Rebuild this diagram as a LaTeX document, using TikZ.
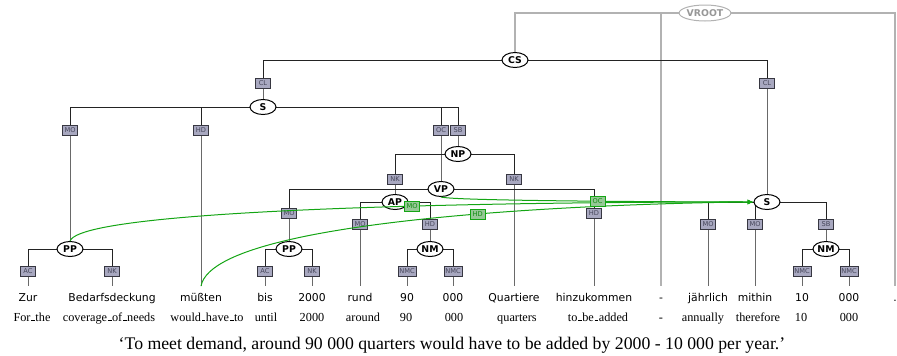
\documentclass[tikz,border=0pt]{standalone}
\usepackage{fontspec}
\setmainfont{Liberation Serif}
\newfontfamily\dejavu{DejaVu Sans}
\usetikzlibrary{shapes.geometric,backgrounds,arrows.meta}

\definecolor{labfill}{RGB}{168,168,192}
\definecolor{labline}{RGB}{55,55,65}
\definecolor{labtext}{RGB}{70,70,90}
\definecolor{secgreen}{RGB}{20,165,20}
\definecolor{secfill}{RGB}{150,200,150}
\definecolor{edgedark}{RGB}{35,35,35}
\definecolor{edgegray}{RGB}{105,105,105}
\definecolor{rootgray}{RGB}{178,178,178}

% underscore of the glosses: a short rule sitting on the baseline
\newcommand\us{\leavevmode\kern.06em\vbox{\hrule width.3em}\kern.04em}
% tree edge: parent -> function label (dark), label -> child (grey)
\newcommand\treeedge[3]{%
  \draw[upperedge] (#1.center) -| (#2.center);
  \draw[loweredge] (#2.center) -- (#3);}

\tikzset{
  cat/.style={ellipse, draw=black, fill=white, line width=0.75pt,
    font=\dejavu\bfseries\fontsize{7}{8}\selectfont,
    minimum width=19.5pt, minimum height=11.25pt, inner sep=0pt},
  rootcat/.style={cat, draw=rootgray, text=rootgray!85!black,
    minimum width=34.5pt, minimum height=12pt},
  lab/.style={rectangle, fill=labfill, draw=labline, line width=0.6pt,
    text=labtext, font=\dejavu\fontsize{5}{6}\selectfont,
    minimum width=11.5pt, minimum height=7.5pt, inner xsep=1pt, inner ysep=0pt},
  seclab/.style={lab, fill=secfill, draw=secgreen, text=secgreen!85!black},
  word/.style={anchor=base, font=\dejavu\fontsize{8.1}{9}\selectfont,
    text height=7pt, text depth=2pt, inner xsep=1pt, inner ysep=4pt},
  gloss/.style={anchor=base, font=\fontsize{9.2}{11}\selectfont, inner sep=0pt},
  upperedge/.style={draw=edgedark, line width=0.75pt},
  loweredge/.style={draw=edgegray, line width=0.75pt},
  rootedge/.style={draw=rootgray, line width=0.9pt},
  secedge/.style={draw=secgreen, line width=0.75pt,
    -{Latex[length=4.5pt,width=3.8pt]}},
}

\begin{document}
\begin{tikzpicture}[x=0.75pt, y=-0.75pt]
\useasboundingbox (0,0) rectangle (897,355);

% ---- syntactic categories ----
\node[rootcat] (vroot) at (705,13) {VROOT};
\node[cat] (cs)  at (515,60)  {CS};
\node[cat] (s1)  at (263,107) {S};
\node[cat] (np)  at (458,154) {NP};
\node[cat] (vp)  at (441,189) {VP};
\node[cat] (ap)  at (395,202) {AP};
\node[cat] (pp1) at (70,249)  {PP};
\node[cat] (pp2) at (289,249) {PP};
\node[cat] (nm1) at (430,249) {NM};
\node[cat] (s2)  at (767,202) {S};
\node[cat] (nm2) at (826,249) {NM};

% ---- edge labels ----
\node[lab] (l-cl1)  at (263,83)  {CL};
\node[lab] (l-cl2)  at (767,83)  {CL};
\node[lab] (l-s1mo) at (70,130)  {MO};
\node[lab] (l-s1hd) at (201,130) {HD};
\node[lab] (l-s1oc) at (441,130) {OC};
\node[lab] (l-s1sb) at (458,130) {SB};
\node[lab] (l-npa)  at (395,179) {NK};
\node[lab] (l-npb)  at (514,179) {NK};
\node[lab] (l-vpmo) at (289,213) {MO};
\node[lab] (l-vphd) at (594,213) {HD};
\node[lab] (l-apmo) at (360,224) {MO};
\node[lab] (l-aphd) at (430,224) {HD};
\node[lab] (l-pp1a) at (28,271)  {AC};
\node[lab] (l-pp1b) at (112,271) {NK};
\node[lab] (l-pp2a) at (265,271) {AC};
\node[lab] (l-pp2b) at (312,271) {NK};
\node[lab] (l-nm1a) at (407,271) {NMC};
\node[lab] (l-nm1b) at (453,271) {NMC};
\node[lab] (l-s2a)  at (708,224) {MO};
\node[lab] (l-s2b)  at (755,224) {MO};
\node[lab] (l-s2sb) at (826,224) {SB};
\node[lab] (l-nm2a) at (802,271) {NMC};
\node[lab] (l-nm2b) at (849,271) {NMC};

% ---- tokens ----
\foreach \n/\x/\t in {1/28/Zur, 2/112/Bedarfsdeckung, 3/201/müßten, 4/265/bis,
    5/312/2000, 6/360/rund, 7/407/90, 8/453/000, 9/514/Quartiere,
    10/594/hinzukommen, 11/661/-, 12/708/jährlich, 13/755/mithin,
    14/802/10, 15/849/000, 16/895/.}
  \node[word] (w\n) at (\x,301) {\t};

% ---- glosses ----
\foreach \n/\x/\t in {1/32/For\us the, 2/109/coverage\us of\us needs,
    3/207/would\us have\us to, 4/266/until, 5/312/2000, 6/363/around,
    7/406/90, 8/454/000, 9/517/quarters, 10/598/to\us be\us added,
    11/661/-, 12/703/annually, 13/758/therefore, 14/801/10, 15/849/000}
  \node[gloss] (g\n) at (\x,321) {\t};

% ---- free translation ----
\node[anchor=base, font=\fontsize{13.3}{15}\selectfont, inner sep=0pt]
  (transl) at (452,349)
  {‘To meet demand, around 90 000 quarters would have to be added by 2000 - 10 000 per year.’};

% ---- primary edges ----
\begin{pgfonlayer}{background}
  \draw[rootedge] (vroot.center) -| (cs.center);
  \draw[rootedge] (vroot.center) -| (w11.north);
  \draw[rootedge] (vroot.center) -| (w16.north);

  \treeedge{cs}{l-cl1}{s1.center}
  \treeedge{cs}{l-cl2}{s2.center}

  \treeedge{s1}{l-s1mo}{pp1.center}
  \treeedge{s1}{l-s1hd}{w3.north}
  \treeedge{s1}{l-s1oc}{vp.center}
  \treeedge{s1}{l-s1sb}{np.center}

  \treeedge{np}{l-npa}{ap.center}
  \treeedge{np}{l-npb}{w9.north}

  \treeedge{vp}{l-vpmo}{pp2.center}
  \treeedge{vp}{l-vphd}{w10.north}

  \treeedge{ap}{l-apmo}{w6.north}
  \treeedge{ap}{l-aphd}{nm1.center}

  \treeedge{pp1}{l-pp1a}{w1.north}
  \treeedge{pp1}{l-pp1b}{w2.north}
  \treeedge{pp2}{l-pp2a}{w4.north}
  \treeedge{pp2}{l-pp2b}{w5.north}
  \treeedge{nm1}{l-nm1a}{w7.north}
  \treeedge{nm1}{l-nm1b}{w8.north}

  \treeedge{s2}{l-s2a}{w12.north}
  \treeedge{s2}{l-s2b}{w13.north}
  \treeedge{s2}{l-s2sb}{nm2.center}
  \treeedge{nm2}{l-nm2a}{w14.north}
  \treeedge{nm2}{l-nm2b}{w15.north}
\end{pgfonlayer}

% ---- secondary edges into the second clause ----
\draw[secedge] (pp1.north) .. controls +(15,-41) and +(-14,0) .. (s2.west)
  node[seclab, pos=0.5] {MO};
\draw[secedge] (w3.north) .. controls +(15,-80) and +(-14,0) .. (s2.west)
  node[seclab, pos=0.5] {HD};
\draw[secedge] (vp.south) .. controls +(15,4.5) and +(-14,0) .. (s2.west)
  node[seclab, pos=0.5] {OC};
\end{tikzpicture}
\end{document}
